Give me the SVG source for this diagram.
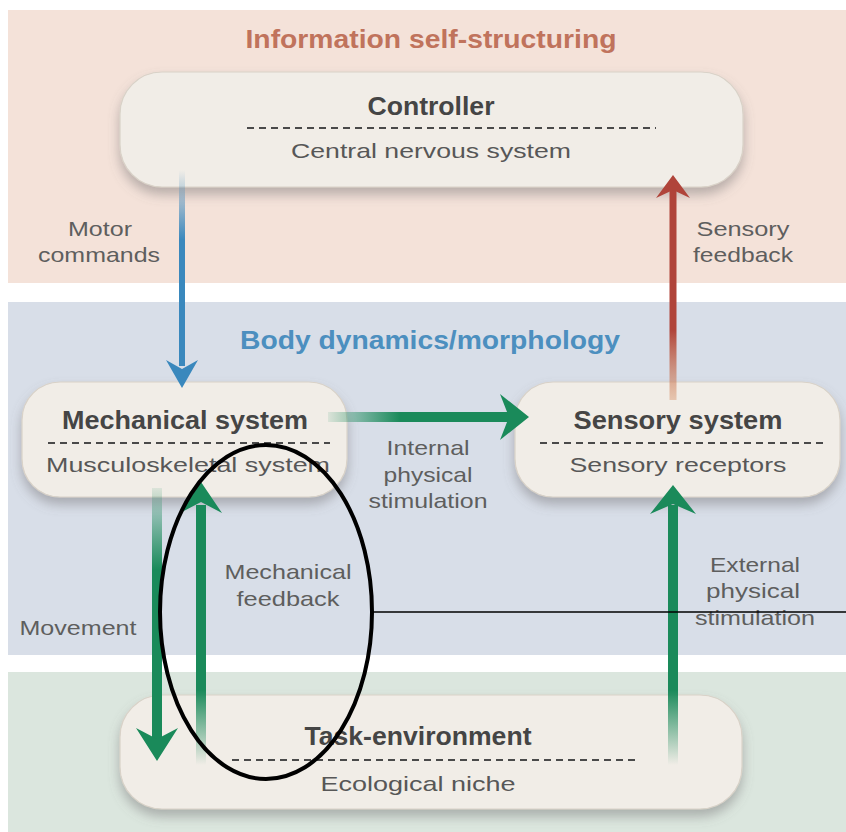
<svg xmlns="http://www.w3.org/2000/svg" width="846" height="832" viewBox="0 0 846 832">
<style>
text{font-family:"Liberation Sans",Arial,sans-serif;text-anchor:middle}
.b{font-weight:bold;fill:#454545;font-size:25px}
.r{fill:#575757;font-size:21px}
.lab{fill:#5e5e5e;font-size:21px}
.box{fill:#f1ede7;stroke:#d9d2c8;stroke-width:1.2;filter:url(#sh)}
.dash{stroke:#4a4a4a;stroke-width:1.8;stroke-dasharray:7 5;fill:none}
</style>
<defs>
<filter id="sh" x="-10%" y="-20%" width="120%" height="160%">
<feDropShadow dx="0" dy="7" stdDeviation="6" flood-color="#6f6a70" flood-opacity="0.45"/>
</filter>
<linearGradient id="gBlue" gradientUnits="userSpaceOnUse" x1="0" y1="170" x2="0" y2="240">
<stop offset="0" stop-color="#3a88bd" stop-opacity="0"/>
<stop offset="1" stop-color="#3a88bd"/>
</linearGradient>
<linearGradient id="gRed" gradientUnits="userSpaceOnUse" x1="0" y1="400" x2="0" y2="330">
<stop offset="0" stop-color="#d58a5c" stop-opacity="0.4"/>
<stop offset="1" stop-color="#b0443a"/>
</linearGradient>
<linearGradient id="gH" gradientUnits="userSpaceOnUse" x1="328" y1="0" x2="400" y2="0">
<stop offset="0" stop-color="#1a8a5a" stop-opacity="0.1"/>
<stop offset="1" stop-color="#1a8a5a"/>
</linearGradient>
<linearGradient id="gMove" gradientUnits="userSpaceOnUse" x1="0" y1="488" x2="0" y2="570">
<stop offset="0" stop-color="#1a8a5a" stop-opacity="0.1"/>
<stop offset="1" stop-color="#1a8a5a"/>
</linearGradient>
<linearGradient id="gUp" gradientUnits="userSpaceOnUse" x1="0" y1="765" x2="0" y2="690">
<stop offset="0" stop-color="#1a8a5a" stop-opacity="0"/>
<stop offset="1" stop-color="#1a8a5a"/>
</linearGradient>
</defs>

<rect width="846" height="832" fill="#ffffff"/>
<g id="bands">
<rect x="8" y="10" width="838" height="273" fill="#f4e2d9"/>
<rect x="8" y="302" width="838" height="353" fill="#d8dee8"/>
<rect x="8" y="672" width="838" height="160" fill="#dbe6de"/>
<text x="431" y="48" font-weight="bold" font-size="25" fill="#c0735c" textLength="371" lengthAdjust="spacingAndGlyphs">Information self-structuring</text>
<text x="430" y="349" font-weight="bold" font-size="25" fill="#4c8fbf" textLength="380" lengthAdjust="spacingAndGlyphs">Body dynamics/morphology</text>
</g>

<g id="controller">
<rect class="box" x="120" y="72" width="623" height="115" rx="42"/>
<text class="b" x="431" y="115" textLength="127" lengthAdjust="spacingAndGlyphs">Controller</text>
<line class="dash" x1="247" y1="128" x2="656" y2="128"/>
<text class="r" x="431" y="158" textLength="280" lengthAdjust="spacingAndGlyphs">Central nervous system</text>
</g>

<g id="mechanical">
<rect class="box" x="22" y="382" width="325" height="115" rx="38"/>
<text class="b" x="185" y="429" textLength="246" lengthAdjust="spacingAndGlyphs">Mechanical system</text>
<line class="dash" x1="48" y1="443" x2="330" y2="443"/>
<text class="r" x="188" y="472" textLength="284" lengthAdjust="spacingAndGlyphs">Musculoskeletal system</text>
</g>

<g id="sensory">
<rect class="box" x="515" y="382" width="325" height="115" rx="38"/>
<text class="b" x="678" y="429" textLength="209" lengthAdjust="spacingAndGlyphs">Sensory system</text>
<line class="dash" x1="540" y1="443" x2="825" y2="443"/>
<text class="r" x="678" y="472" textLength="217" lengthAdjust="spacingAndGlyphs">Sensory receptors</text>
</g>

<g id="task">
<rect class="box" x="120" y="695" width="622" height="114" rx="42"/>
<text class="b" x="418" y="745" textLength="227" lengthAdjust="spacingAndGlyphs">Task-environment</text>
<line class="dash" x1="232" y1="760" x2="640" y2="760"/>
<text class="r" x="418" y="791" textLength="195" lengthAdjust="spacingAndGlyphs">Ecological niche</text>
</g>

<g id="connectors">
<rect x="179" y="170" width="6" height="196" fill="url(#gBlue)"/>
<polygon points="182,388 166,360 182,369 198,360" fill="#3a88bd"/>

<rect x="669.5" y="188" width="7" height="212" fill="url(#gRed)"/>
<polygon points="673,175 690,198 673,190 656,198" fill="#b0443a"/>

<rect x="328" y="412" width="182" height="10" fill="url(#gH)"/>
<polygon points="529,417 500,394 509,417 500,440" fill="#1a8a5a"/>

<rect x="152" y="488" width="10" height="252" fill="url(#gMove)"/>
<polygon points="157,761 136,728 157,739 178,728" fill="#1a8a5a"/>

<rect x="196" y="505" width="10" height="260" fill="url(#gUp)"/>
<polygon points="201,482 222,513 201,502 180,513" fill="#1a8a5a"/>

<rect x="668" y="505" width="10" height="262" fill="url(#gUp)"/>
<polygon points="673,485 696,514 673,504 650,514" fill="#1a8a5a"/>

<g class="labels">
<text class="lab" x="100" y="236" textLength="64" lengthAdjust="spacingAndGlyphs">Motor</text>
<text class="lab" x="99" y="262" textLength="122" lengthAdjust="spacingAndGlyphs">commands</text>
<text class="lab" x="743" y="236" textLength="93" lengthAdjust="spacingAndGlyphs">Sensory</text>
<text class="lab" x="743" y="262" textLength="100" lengthAdjust="spacingAndGlyphs">feedback</text>
<text class="lab" x="428" y="455" textLength="83" lengthAdjust="spacingAndGlyphs">Internal</text>
<text class="lab" x="428" y="482" textLength="89" lengthAdjust="spacingAndGlyphs">physical</text>
<text class="lab" x="428" y="508" textLength="119" lengthAdjust="spacingAndGlyphs">stimulation</text>
<text class="lab" x="288" y="579" textLength="127" lengthAdjust="spacingAndGlyphs">Mechanical</text>
<text class="lab" x="288" y="606" textLength="103" lengthAdjust="spacingAndGlyphs">feedback</text>
<text class="lab" x="78" y="635" textLength="117" lengthAdjust="spacingAndGlyphs">Movement</text>
<text class="lab" x="755" y="572" textLength="90" lengthAdjust="spacingAndGlyphs">External</text>
<text class="lab" x="753" y="598" textLength="94" lengthAdjust="spacingAndGlyphs">physical</text>
<text class="lab" x="755" y="625" textLength="120" lengthAdjust="spacingAndGlyphs">stimulation</text>
</g>
</g>

<g id="annotation">
<ellipse cx="266" cy="612" rx="106" ry="167" fill="none" stroke="#000" stroke-width="4"/>
<line x1="372" y1="612" x2="846" y2="612" stroke="#000" stroke-width="1.5"/>
</g>
</svg>
